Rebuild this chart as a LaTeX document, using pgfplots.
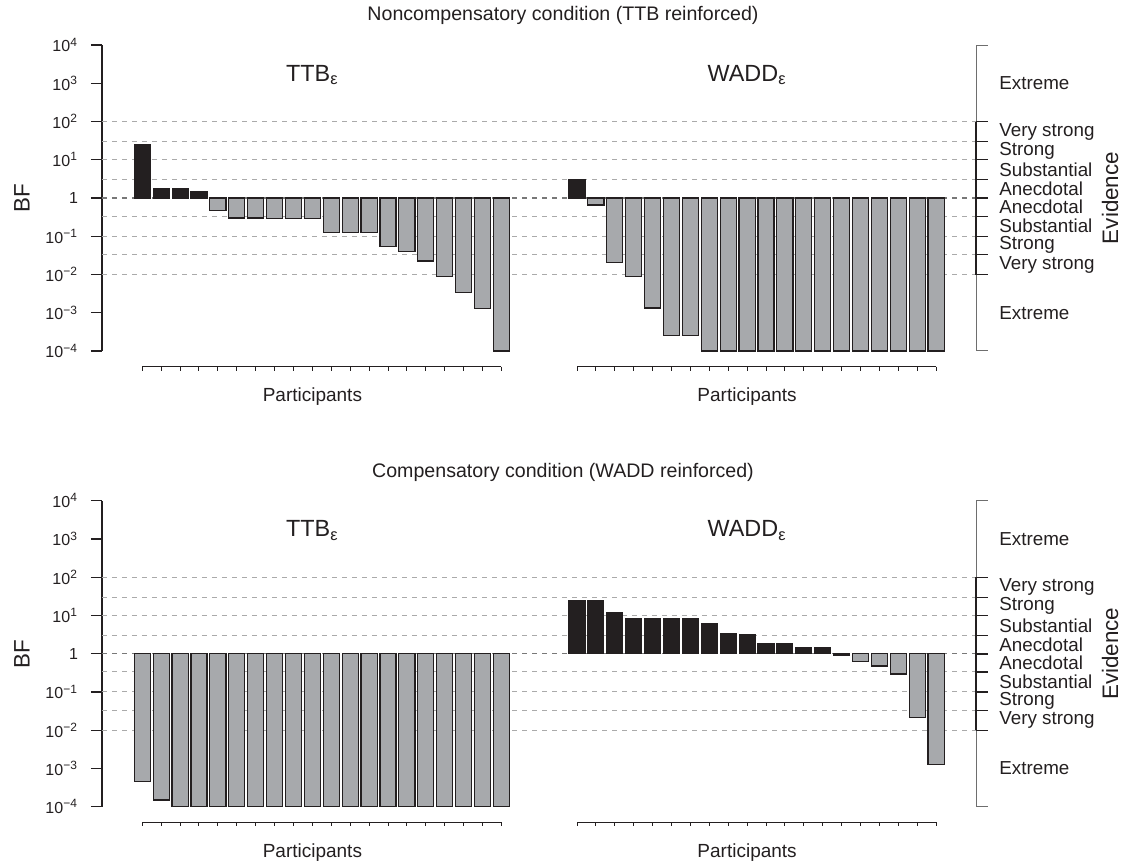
\documentclass[border=0pt]{standalone}
\usepackage{fontspec}
\setmainfont{Liberation Sans}
\usepackage{pgfplots}
\pgfplotsset{compat=1.18}
\usepackage{pgfplotstable}

\definecolor{ink}{RGB}{35,31,32}
\definecolor{barfill}{RGB}{167,169,172}
\definecolor{dashcol}{RGB}{170,170,170}
\definecolor{onecol}{RGB}{120,120,120}
\definecolor{brgray}{RGB}{110,110,110}

% Bayes factors (BF) per participant
% Noncompensatory condition
\pgfplotstableread{
x y
1 25
2 1.72
3 1.72
4 1.49
}\AposTTB
\pgfplotstableread{
x y
5 0.476
6 0.30
7 0.30
8 0.29
9 0.29
10 0.29
11 0.126
12 0.126
13 0.126
14 0.0545
15 0.040
16 0.0225
17 0.0088
18 0.0034
19 0.0013
20 0.0001
}\AnegTTB
\pgfplotstableread{
x y
24 3.0
}\AposWADD
\pgfplotstableread{
x y
25 0.656
26 0.0208
27 0.0088
28 0.00133
29 0.000257
30 0.000257
31 0.0001
32 0.0001
33 0.0001
34 0.0001
35 0.0001
36 0.0001
37 0.0001
38 0.0001
39 0.0001
40 0.0001
41 0.0001
42 0.0001
43 0.0001
}\AnegWADD

% Compensatory condition
\pgfplotstableread{
x y
1 0.00045
2 0.000149
3 0.0001
4 0.0001
5 0.0001
6 0.0001
7 0.0001
8 0.0001
9 0.0001
10 0.0001
11 0.0001
12 0.0001
13 0.0001
14 0.0001
15 0.0001
16 0.0001
17 0.0001
18 0.0001
19 0.0001
20 0.0001
}\BnegTTB
\pgfplotstableread{
x y
24 25.3
25 25.3
26 12.3
27 8.4
28 8.4
29 8.4
30 8.4
31 6.3
32 3.47
33 3.14
34 1.86
35 1.86
36 1.49
37 1.49
}\BposWADD
\pgfplotstableread{
x y
38 0.92
39 0.64
40 0.476
41 0.294
42 0.0212
43 0.00125
}\BnegWADD

% the y axis is log10(BF), bars start at BF = 1
\pgfplotsset{
  bfaxis/.style={
    scale only axis, width=437pt, height=153pt,
    xmin=-1.132, xmax=45.11, ymin=-4, ymax=4,
    axis x line=none, axis y line*=left,
    y axis line style={ink, line width=0.7pt},
    xtick=\empty,
    ytick={-4,-3,-2,-1,0,1,2,3,4},
    yticklabels={10\textsuperscript{−4},10\textsuperscript{−3},10\textsuperscript{−2},10\textsuperscript{−1},1,10\textsuperscript{1},10\textsuperscript{2},10\textsuperscript{3},10\textsuperscript{4}},
    tick align=outside, major tick length=5.5pt,
    tick style={ink, line width=0.7pt},
    yticklabel style={font=\fontsize{8}{9}\selectfont, text=ink, anchor=east, xshift=-3pt},
    clip=false,
  },
  posbar/.style={ybar, bar width=0.85, bar shift=0pt, fill=ink, draw=ink, line width=0.5pt, forget plot},
  negbar/.style={ybar, bar width=0.85, bar shift=0pt, fill=barfill, draw=ink, line width=0.6pt, forget plot},
  refl/.style={dashcol, line width=0.5pt, dash pattern=on 2.5pt off 2.5pt, forget plot, mark=none},
}
\tikzset{
  evl/.style={anchor=west, font=\fontsize{9.4}{10}\selectfont, text=ink, inner sep=0pt, xshift=11.5pt},
}

\newcommand{\reflines}{%
  \addplot[refl] coordinates {(-1.132,2) (45.11,2)};
  \addplot[refl] coordinates {(-1.132,1.4771) (45.11,1.4771)};
  \addplot[refl] coordinates {(-1.132,1) (45.11,1)};
  \addplot[refl] coordinates {(-1.132,0.4771) (45.11,0.4771)};
  \addplot[refl] coordinates {(-1.132,-0.4771) (45.11,-0.4771)};
  \addplot[refl] coordinates {(-1.132,-1) (45.11,-1)};
  \addplot[refl] coordinates {(-1.132,-1.4771) (45.11,-1.4771)};
  \addplot[refl] coordinates {(-1.132,-2) (45.11,-2)};
  \addplot[refl, onecol, line width=0.7pt] coordinates {(-1.132,0) (45.11,0)};
}

\newcommand{\btick}[2]{\draw[#1] (axis cs:45.11,#2) -- ([xshift=6pt]axis cs:45.11,#2);}

\newcommand{\decor}{%
  % bracket
  \draw[brgray, line width=0.5pt] (axis cs:45.11,4) -- (axis cs:45.11,2);
  \draw[ink, line width=1pt] (axis cs:45.11,2) -- (axis cs:45.11,-2);
  \draw[brgray, line width=0.5pt] (axis cs:45.11,-2) -- (axis cs:45.11,-4);
  \btick{brgray, line width=0.5pt}{4}
  \btick{brgray, line width=0.5pt}{-4}
  \btick{ink, line width=0.6pt}{2}
  \btick{ink, line width=0.6pt}{1.4771}
  \btick{ink, line width=0.6pt}{1}
  \btick{ink, line width=0.6pt}{0.4771}
  \btick{ink, line width=1pt}{0}
  \btick{ink, line width=0.6pt}{-0.4771}
  \btick{ink, line width=0.6pt}{-1}
  \btick{ink, line width=0.6pt}{-1.4771}
  \btick{ink, line width=0.6pt}{-2}
  % evidence labels
  \node[evl] at (axis cs:45.11,3) {Extreme};
  \node[evl] at (axis cs:45.11,1.7386) {Very strong};
  \node[evl] at (axis cs:45.11,1.2386) {Strong};
  \node[evl] at (axis cs:45.11,0.7386) {Substantial};
  \node[evl] at (axis cs:45.11,0.2386) {Anecdotal};
  \node[evl] at (axis cs:45.11,-0.2386) {Anecdotal};
  \node[evl] at (axis cs:45.11,-0.7386) {Substantial};
  \node[evl] at (axis cs:45.11,-1.2386) {Strong};
  \node[evl] at (axis cs:45.11,-1.7386) {Very strong};
  \node[evl] at (axis cs:45.11,-3) {Extreme};
  \node[rotate=90, font=\fontsize{11.2}{13}\selectfont, text=ink] at ([xshift=67pt]axis cs:45.11,0) {Evidence};
  \node[rotate=90, font=\fontsize{11.2}{13}\selectfont, text=ink] at ([xshift=-40pt]axis cs:-1.132,0) {BF};
  % participant axes
  \draw[ink, line width=0.5pt] ([yshift=-7.85pt]axis cs:1,-4) -- ([yshift=-7.85pt]axis cs:20,-4);
  \draw[ink, line width=0.5pt] ([yshift=-7.85pt]axis cs:24,-4) -- ([yshift=-7.85pt]axis cs:43,-4);
  \pgfplotsinvokeforeach{1,...,20}{\draw[ink, line width=0.5pt] ([yshift=-7.85pt]axis cs:##1,-4) -- ([yshift=-9.85pt]axis cs:##1,-4);}
  \pgfplotsinvokeforeach{24,...,43}{\draw[ink, line width=0.5pt] ([yshift=-7.85pt]axis cs:##1,-4) -- ([yshift=-9.85pt]axis cs:##1,-4);}
  \node[font=\fontsize{9.5}{11}\selectfont, text=ink] at ([yshift=-22.85pt]axis cs:10,-4) {Participants};
  \node[font=\fontsize{9.5}{11}\selectfont, text=ink] at ([yshift=-22.85pt]axis cs:33,-4) {Participants};
  % panel titles
  \node[font=\fontsize{11.7}{13}\selectfont, text=ink] at ([yshift=-15pt]axis cs:10,4) {TTB\textsubscript{ε}};
  \node[font=\fontsize{11.7}{13}\selectfont, text=ink] at ([yshift=-15pt]axis cs:33,4) {WADD\textsubscript{ε}};
}

\begin{document}
\begin{tikzpicture}
\useasboundingbox (0,0) rectangle (562.5pt,431.5pt);

\node[font=\fontsize{9.8}{11}\selectfont, text=ink] at (281.5pt,424pt) {Noncompensatory condition (TTB reinforced)};
\node[font=\fontsize{9.8}{11}\selectfont, text=ink] at (281.5pt,195.5pt) {Compensatory condition (WADD reinforced)};

\begin{axis}[bfaxis, at={(51pt,256pt)}, anchor=south west]
  \reflines
  \addplot[posbar] table[x=x, y expr={log10(\thisrow{y})}] {\AposTTB};
  \addplot[negbar] table[x=x, y expr={log10(\thisrow{y})}] {\AnegTTB};
  \addplot[posbar] table[x=x, y expr={log10(\thisrow{y})}] {\AposWADD};
  \addplot[negbar] table[x=x, y expr={log10(\thisrow{y})}] {\AnegWADD};
  \decor
\end{axis}

\begin{axis}[bfaxis, at={(51pt,28.15pt)}, anchor=south west]
  \reflines
  \addplot[negbar] table[x=x, y expr={log10(\thisrow{y})}] {\BnegTTB};
  \addplot[posbar] table[x=x, y expr={log10(\thisrow{y})}] {\BposWADD};
  \addplot[negbar] table[x=x, y expr={log10(\thisrow{y})}] {\BnegWADD};
  \decor
\end{axis}
\end{tikzpicture}
\end{document}
